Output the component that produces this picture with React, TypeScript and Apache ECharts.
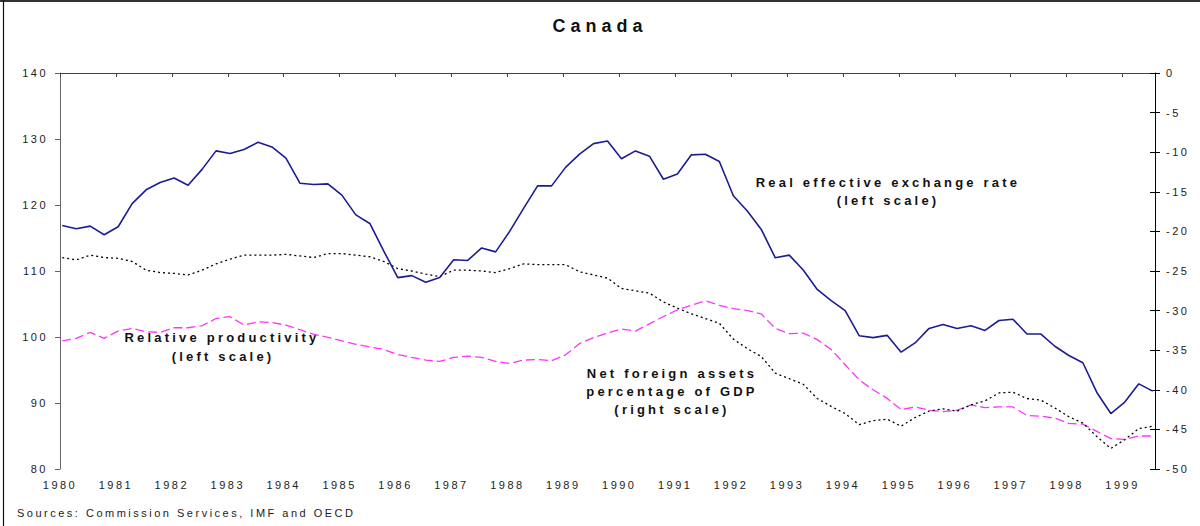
import React, { useEffect, useRef } from "react";
import * as echarts from "echarts";

// Quarterly data, first quarter of 1980 through third quarter of 1999
const START_YEAR = 1980;
const QUARTER_STEP = 0.25;
const POINT_OFFSET = 0.04;

// Real effective exchange rate (left scale)
const reer = [
  116.9, 116.4, 116.8, 115.5, 116.7, 120.2, 122.3, 123.4, 124.1, 123.0, 125.4, 128.2,
  127.8, 128.4, 129.5, 128.8, 127.1, 123.3, 123.1, 123.2, 121.5, 118.5, 117.2, 113.0,
  109.0, 109.3, 108.3, 109.0, 111.7, 111.6, 113.5, 112.9, 116.0, 119.5, 122.9, 122.9,
  125.7, 127.7, 129.3, 129.7, 127.0, 128.2, 127.4, 123.9, 124.7, 127.6, 127.7, 126.6,
  121.4, 119.1, 116.3, 112.0, 112.4, 110.15, 107.2, 105.5, 104.0, 100.2, 99.9, 100.25,
  97.7, 99.1, 101.3, 101.9, 101.3, 101.7, 101.0, 102.5, 102.7, 100.45, 100.45, 98.6,
  97.2, 96.1, 91.6, 88.4, 90.15, 92.9, 91.8,
];

// Relative productivity (left scale)
const productivity = [
  99.4, 99.8, 100.7, 99.8, 100.9, 101.3, 100.8, 100.7, 101.4, 101.4, 101.7, 102.8,
  103.1, 101.8, 102.3, 102.2, 101.8, 101.1, 100.4, 99.95, 99.4, 98.9, 98.5, 98.1,
  97.35, 96.9, 96.5, 96.3, 96.9, 97.1, 96.9, 96.3, 96.0, 96.5, 96.6, 96.4,
  97.3, 99.0, 99.9, 100.6, 101.2, 100.9, 102.0, 103.1, 104.1, 104.8, 105.5, 104.8,
  104.3, 104.0, 103.5, 101.3, 100.5, 100.6, 99.6, 98.1, 95.8, 93.5, 92.0, 90.7,
  89.0, 89.4, 88.9, 88.7, 88.9, 89.7, 89.3, 89.4, 89.4, 88.1, 88.0, 87.7,
  86.9, 86.8, 85.7, 84.6, 84.5, 85.0, 85.0,
];

// Net foreign assets, percentage of GDP (right scale)
const netForeignAssets = [
  -23.3, -23.6, -23.0, -23.3, -23.4, -23.8, -24.9, -25.2, -25.3, -25.5, -24.9, -24.1,
  -23.5, -23.0, -23.0, -23.0, -22.9, -23.1, -23.3, -22.8, -22.8, -23.0, -23.2, -23.8,
  -24.7, -25.0, -25.4, -25.7, -24.9, -24.9, -25.0, -25.2, -24.7, -24.1, -24.2, -24.2,
  -24.2, -25.1, -25.5, -25.9, -27.2, -27.5, -27.8, -28.9, -29.7, -30.4, -31.0, -31.6,
  -33.6, -34.8, -35.8, -37.9, -38.6, -39.3, -41.1, -42.1, -43.0, -44.4, -43.9, -43.7,
  -44.6, -43.5, -42.7, -42.4, -42.7, -41.9, -41.4, -40.4, -40.3, -41.1, -41.3, -42.3,
  -43.4, -44.2, -45.9, -47.4, -46.3, -44.9, -44.6,
];

const X_MIN = 1980;
const X_MAX = 1999.58;
const LEFT_MIN = 80;
const LEFT_MAX = 140;
const LEFT_STEP = 10;
const RIGHT_MIN = -50;
const RIGHT_MAX = 0;
const RIGHT_STEP = 5;

const TITLE = "Canada";
const SOURCE = "Sources: Commission Services, IMF and OECD";

const FONT = "'Liberation Sans', Arial, Helvetica, sans-serif";

const toPoints = (vals: number[]) =>
  vals.map((v, i) => [START_YEAR + i * QUARTER_STEP + POINT_OFFSET, v]);

export default function App() {
  const ref = useRef<HTMLDivElement>(null);

  useEffect(() => {
    document.body.style.margin = "0";
    if (!ref.current) return;
    const chart = echarts.init(ref.current, undefined, { renderer: "svg" });

    const labelStyle = { fontFamily: FONT, fontSize: 11, color: "#222" };
    const annot = (text: string, x: number, y: number) => ({
      type: "text",
      x,
      y,
      style: {
        text,
        fontFamily: FONT,
        fontSize: 13,
        fontWeight: "bold",
        fill: "#111",
        textAlign: "center",
        textVerticalAlign: "middle",
        verticalAlign: "middle",
      },
      silent: true,
    });

    chart.setOption({
      animation: false,
      backgroundColor: "#ffffff",
      title: {
        text: TITLE,
        left: "center",
        top: 17,
        padding: 0,
        textStyle: { fontFamily: FONT, fontSize: 18, fontWeight: "bold", color: "#111" },
      },
      grid: { left: 60, right: 45, top: 73, bottom: 57, containLabel: false },
      xAxis: {
        type: "value",
        min: X_MIN,
        max: X_MAX,
        interval: 1,
        axisLine: { show: true, lineStyle: { color: "#444", width: 1 } },
        axisTick: { show: true, inside: false, length: 4, lineStyle: { color: "#444" } },
        splitLine: { show: false },
        axisLabel: {
          ...labelStyle,
          margin: 10,
          showMaxLabel: false,
          formatter: (v: number) => (Math.abs(v - Math.round(v)) < 1e-6 ? String(Math.round(v)) : ""),
        },
      },
      yAxis: [
        {
          type: "value",
          position: "left",
          min: LEFT_MIN,
          max: LEFT_MAX,
          interval: LEFT_STEP,
          axisLine: { show: true, lineStyle: { color: "#666", width: 1 } },
          axisTick: { show: true, inside: false, length: 5, lineStyle: { color: "#666" } },
          splitLine: { show: false },
          axisLabel: { ...labelStyle, margin: 12 },
        },
        {
          type: "value",
          position: "right",
          min: RIGHT_MIN,
          max: RIGHT_MAX,
          interval: RIGHT_STEP,
          axisLine: { show: true, onZero: false, lineStyle: { color: "#000", width: 1 } },
          axisTick: { show: true, inside: false, length: 5, lineStyle: { color: "#000" } },
          splitLine: { show: false },
          axisLabel: { ...labelStyle, margin: 11 },
        },
        {
          type: "value",
          position: "right",
          min: RIGHT_MIN,
          max: RIGHT_MAX,
          interval: RIGHT_STEP,
          axisLine: { show: false },
          axisTick: { show: true, inside: true, length: 5, lineStyle: { color: "#000" } },
          splitLine: { show: false },
          axisLabel: { show: false },
        },
      ],
      series: [
        {
          name: "Relative productivity",
          type: "line",
          yAxisIndex: 0,
          data: toPoints(productivity),
          symbol: "none",
          lineStyle: { color: "#ff33ff", width: 1.3, type: [9, 4] },
          z: 2,
        },
        {
          name: "Net foreign assets percentage of GDP",
          type: "line",
          yAxisIndex: 1,
          data: toPoints(netForeignAssets),
          symbol: "none",
          lineStyle: { color: "#000", width: 1.3, type: [2, 3] },
          z: 3,
        },
        {
          name: "Real effective exchange rate",
          type: "line",
          yAxisIndex: 0,
          data: toPoints(reer),
          symbol: "none",
          lineStyle: { color: "#1c1c94", width: 1.6 },
          z: 4,
        },
      ],
      graphic: [
        { type: "line", shape: { x1: 0, y1: 1, x2: 1200, y2: 1 }, style: { stroke: "#333", lineWidth: 2 }, silent: true },
        { type: "line", shape: { x1: 3.5, y1: 0, x2: 3.5, y2: 526 }, style: { stroke: "#111", lineWidth: 1.2 }, silent: true },
        annot("Real effective exchange rate", 888, 182),
        annot("(left scale)", 888, 200),
        annot("Relative productivity", 222, 337),
        annot("(left scale)", 223, 356),
        annot("Net foreign assets", 672, 373),
        annot("percentage of GDP", 672, 391),
        annot("(right scale)", 672, 409),
        {
          type: "text",
          x: 17,
          y: 513,
          style: {
            text: SOURCE,
            fontFamily: FONT,
            fontSize: 11,
            fill: "#222",
            textAlign: "left",
            textVerticalAlign: "middle",
            verticalAlign: "middle",
          },
          silent: true,
        },
      ],
    });

    return () => {
      chart.dispose();
    };
  }, []);

  return (
    <>
      <style>{`
        #cv text { letter-spacing: 2.5px; }
        #cv text[style*="13px"] { letter-spacing: 3.2px; }
        #cv text[style*="18px"] { letter-spacing: 5px; }
      `}</style>
      <div id="cv" ref={ref} style={{ width: 1200, height: 526 }} />
    </>
  );
}
